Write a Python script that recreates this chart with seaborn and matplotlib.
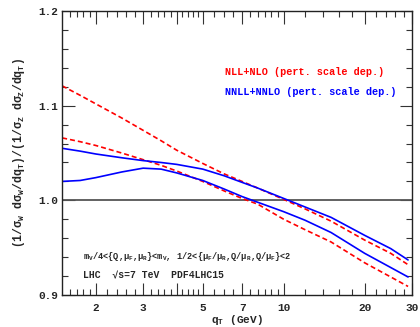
import numpy as np
import pandas as pd
import matplotlib
matplotlib.use("Agg")
import matplotlib.pyplot as plt
import seaborn as sns

# ==========================================
# DATA
# ==========================================

qt = [1.5, 1.75, 2, 2.5, 3, 3.5, 4, 5, 6, 7, 8, 10, 12, 15, 20, 25, 29]

nll_upper = [1.121, 1.111, 1.102, 1.087, 1.074, 1.063, 1.053, 1.039, 1.028,
             1.020, 1.013, 1.001, 0.991, 0.978, 0.958, 0.944, 0.932]
nll_lower = [1.066, 1.062, 1.058, 1.050, 1.043, 1.037, 1.031, 1.020, 1.010,
             1.002, 0.996, 0.980, 0.969, 0.956, 0.934, 0.919, 0.909]
nnll_upper = [1.055, 1.052, 1.049, 1.045, 1.042, 1.040, 1.038, 1.033, 1.026,
              1.019, 1.013, 1.002, 0.993, 0.982, 0.963, 0.949, 0.937]
nnll_lower = [1.020, 1.021, 1.024, 1.030, 1.034, 1.033, 1.029, 1.021, 1.012,
              1.004, 0.998, 0.988, 0.979, 0.966, 0.944, 0.929, 0.919]

x_major = [2, 3, 4, 5, 7, 10, 20, 30]
x_major_labels = ["2", "3", "", "5", "7", "10", "20", "30"]
x_minor = [1.6, 1.7, 1.8, 1.9, 2.2, 2.4, 2.6, 2.8, 3.2, 3.4, 3.6, 3.8,
           4.2, 4.4, 4.6, 4.8, 5.5, 6, 6.5, 7.5, 8, 8.5, 9, 9.5,
           12, 14, 16, 18, 22, 24, 26, 28]
y_major = [0.9, 1.0, 1.1, 1.2]

# ==========================================
# STYLE
# ==========================================

sns.set_style("ticks")
plt.rcParams["font.family"] = ["Liberation Mono", "DejaVu Sans"]
plt.rcParams["font.weight"] = "bold"
plt.rcParams["axes.labelweight"] = "bold"
plt.rcParams["mathtext.fontset"] = "custom"
plt.rcParams["mathtext.rm"] = "Liberation Mono:bold"
plt.rcParams["mathtext.it"] = "Liberation Mono:bold"
plt.rcParams["mathtext.bf"] = "Liberation Mono:bold"

fig = plt.figure(figsize=(4.2, 3.27), dpi=100)
ax = fig.add_axes([0.148, 0.098, 0.833, 0.868])

dash = (0, (3, 1.8))
sns.lineplot(x=qt, y=nll_upper, ax=ax, color="#ff0000", lw=1.2, linestyle=dash)
sns.lineplot(x=qt, y=nll_lower, ax=ax, color="#ff0000", lw=1.2, linestyle=dash)
sns.lineplot(x=qt, y=nnll_upper, ax=ax, color="#0000ff", lw=1.2)
sns.lineplot(x=qt, y=nnll_lower, ax=ax, color="#0000ff", lw=1.2)

ax.axhline(1.0, color="#555555", lw=1.3, zorder=1)

ax.set_xscale("log")
ax.set_xlim(1.5, 30)
ax.set_ylim(0.9, 1.2)

ax.set_xticks(x_major)
ax.set_xticklabels(x_major_labels)
ax.set_xticks(x_minor, minor=True)
ax.set_xticklabels([], minor=True)
ax.set_yticks(y_major)
ax.set_yticklabels(["0.9", "1.0", "1.1", "1.2"])
ax.set_yticks(np.arange(0.9, 1.2001, 0.02), minor=True)

ax.tick_params(which="both", direction="in", top=True, right=True,
               labelsize=8, color="#333333", width=0.8)
ax.tick_params(which="major", length=9)
ax.tick_params(axis="x", which="major", pad=6)
ax.tick_params(axis="y", which="major", pad=3)
ax.tick_params(which="minor", length=4)
for s in ax.spines.values():
    s.set_linewidth(1.0)
    s.set_color("#222222")

ax.set_xlabel(r"q$_\mathregular{T}$ (GeV)", fontsize=8, labelpad=0)
ax.set_ylabel(r"(1/$\sigma_\mathregular{W}$ d$\sigma_\mathregular{W}$/dq$_\mathregular{T}$)"
              r"/(1/$\sigma_\mathregular{Z}$ d$\sigma_\mathregular{Z}$/dq$_\mathregular{T}$)",
              fontsize=8.3, labelpad=8)

ax.text(0.466, 0.785, "NLL+NLO (pert. scale dep.)", color="#ff0000",
        fontsize=7.3, transform=ax.transAxes, va="center")
ax.text(0.466, 0.715, "NNLL+NNLO (pert. scale dep.)", color="#0000ff",
        fontsize=7.4, transform=ax.transAxes, va="center")
ax.text(0.06, 0.134,
        r"m$_\mathregular{V}$/4<{Q,$\mu_\mathregular{F}$,$\mu_\mathregular{R}$}<m$_\mathregular{V}$, "
        r"1/2<{$\mu_\mathregular{F}$/$\mu_\mathregular{R}$,Q/$\mu_\mathregular{R}$,Q/$\mu_\mathregular{F}$}<2",
        fontsize=6.2, transform=ax.transAxes, va="center")
ax.text(0.06, 0.067, "LHC  \u221as=7 TeV  PDF4LHC15",
        fontsize=7.0, transform=ax.transAxes, va="center")

plt.savefig("out.png", dpi=100)
